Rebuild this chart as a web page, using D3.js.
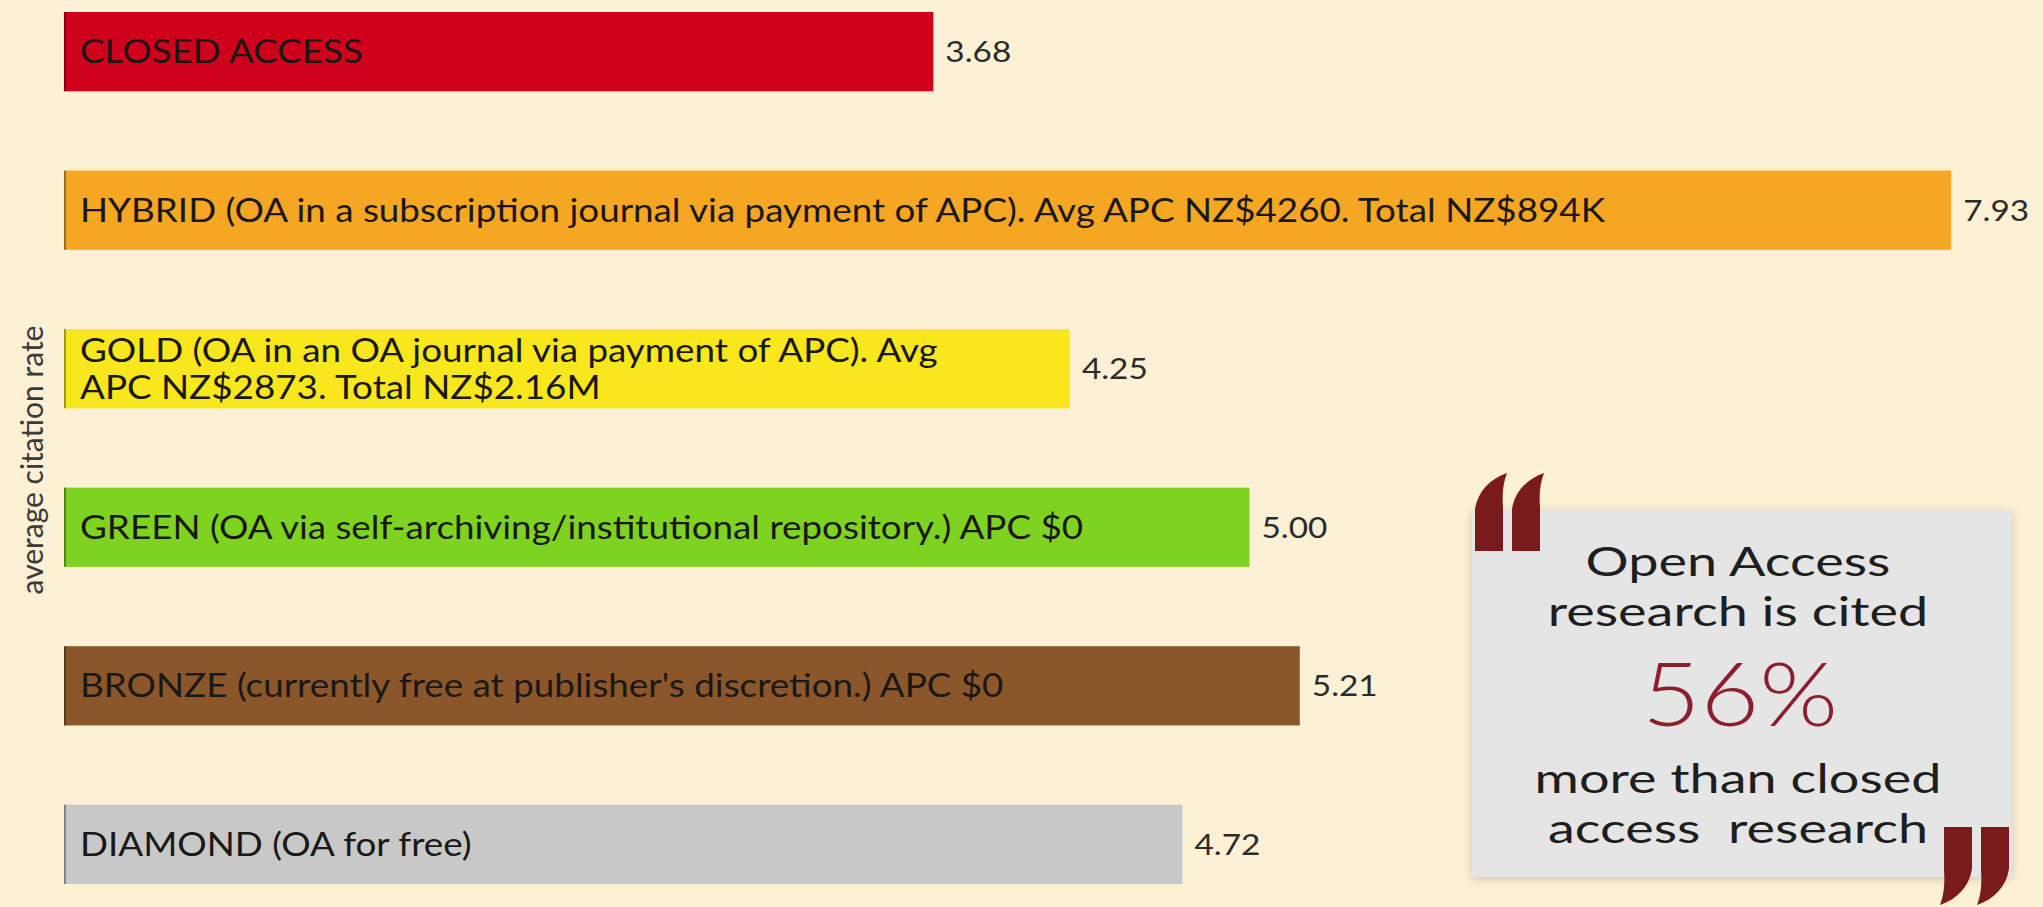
<!DOCTYPE html>
<html lang="en">
<head>
<meta charset="utf-8">
<title>Citation rate by access type</title>
<script src="https://d3js.org/d3.v7.min.js"></script>
<style>
  html, body { margin: 0; padding: 0; background: #fcf0d5; }
  svg { display: block; font-family: Lato, "Open Sans", sans-serif; }
</style>
</head>
<body>
<svg id="chart" width="2043" height="907"></svg>
<script>
// data
const categories = ["CLOSED", "HYBRID", "GOLD", "GREEN", "BRONZE", "DIAMOND"];
const values = [3.68, 7.93, 4.25, 5.00, 5.21, 4.72];
const barLabels = [
  ["CLOSED ACCESS"],
  ["HYBRID (OA in a subscription journal via payment of APC). Avg APC NZ$4260. Total NZ$894K"],
  ["GOLD (OA in an OA journal via payment of APC). Avg", "APC NZ$2873. Total NZ$2.16M"],
  ["GREEN (OA via self-archiving/institutional repository.) APC $0"],
  ["BRONZE (currently free at publisher's discretion.) APC $0"],
  ["DIAMOND (OA for free)"]
];
const barColors = ["#d0021b", "#f5a623", "#f8e71c", "#7ed321", "#8b572a", "#c8c8c9"];
const yTitle = "average citation rate";
const quoteTop = ["Open Access", "research is cited"];
const quoteStat = "56%";
const quoteBottom = ["more than closed", "access\u00a0 research"];

const svg = d3.select("#chart");
const W = 2043, H = 907;
const left = 65;
const sx = 1.15; // the original picture is stretched sideways

svg.append("rect").attr("width", W).attr("height", H).attr("fill", "#fcf0d5");

const defs = svg.append("defs");
const shadow = defs.append("filter").attr("id", "shadow")
  .attr("x", "-10%").attr("y", "-10%").attr("width", "120%").attr("height", "120%");
shadow.append("feDropShadow").attr("dx", 0).attr("dy", 2).attr("stdDeviation", 4)
  .attr("flood-color", "#000").attr("flood-opacity", 0.18);

// scales
const x = d3.scaleLinear().domain([0, 8]).range([52, 1968]);
const y = d3.scaleBand().domain(categories).range([12, 884]).paddingInner(0.5).paddingOuter(0);

const rows = categories.map((c, i) => ({cat: c, v: values[i], lines: barLabels[i], color: barColors[i]}));

// bars
const bar = svg.append("g").selectAll("g")
  .data(rows)
  .join("g")
  .attr("transform", d => `translate(0,${y(d.cat)})`);

bar.append("rect")
  .attr("x", left)
  .attr("width", d => x(d.v) - left)
  .attr("height", y.bandwidth())
  .attr("fill", d => d.color);

// thin darker left edge like the original
bar.append("rect")
  .attr("x", left - 1)
  .attr("width", 2)
  .attr("height", y.bandwidth())
  .attr("fill", d => d3.color(d.color).darker(1.2));

// labels inside bars
bar.each(function(d) {
  const g = d3.select(this);
  const n = d.lines.length;
  const lh = 37;
  d.lines.forEach((line, k) => {
    const cy = y.bandwidth() / 2 + (k - (n - 1) / 2) * lh;
    g.append("text")
      .attr("transform", `translate(80,${cy}) scale(${sx},1)`)
      .attr("dy", "0.36em")
      .attr("font-size", 32)
      .attr("fill", "#1a1816")
      .text(line);
  });
});

// value labels
bar.append("text")
  .attr("transform", d => `translate(${x(d.v) + 12},${y.bandwidth() / 2}) scale(${sx},1)`)
  .attr("dy", "0.36em")
  .attr("font-size", 29)
  .attr("fill", "#2b2b2b")
  .text(d => d.v.toFixed(2));

// y axis title
svg.append("text")
  .attr("transform", "translate(43,460) rotate(-90)")
  .attr("text-anchor", "middle")
  .attr("font-size", 30)
  .attr("fill", "#3a3a3a")
  .text(yTitle);

// quote box
const qx = 1472, qy = 510, qw = 540, qh = 367, qc = 1738;
const quote = svg.append("g");
quote.append("rect")
  .attr("x", qx).attr("y", qy).attr("width", qw).attr("height", qh)
  .attr("fill", "#e5e5e6")
  .attr("filter", "url(#shadow)");

const qsx = 1.3;
quote.selectAll("text.top")
  .data(quoteTop)
  .join("text")
  .attr("class", "top")
  .attr("transform", (d, i) => `translate(${qc},${576 + i * 50}) scale(${qsx},1)`)
  .attr("text-anchor", "middle")
  .attr("font-size", 41.5)
  .attr("fill", "#1e1e1e")
  .text(d => d);

quote.append("text")
  .attr("transform", `translate(${qc + 2},726) scale(1.15,1)`)
  .attr("text-anchor", "middle")
  .attr("font-size", 88)
  .attr("font-weight", 300)
  .attr("fill", "#8c1f2d")
  .text(quoteStat);

quote.selectAll("text.bottom")
  .data(quoteBottom)
  .join("text")
  .attr("class", "bottom")
  .attr("transform", (d, i) => `translate(${qc},${793 + i * 50}) scale(${qsx},1)`)
  .attr("text-anchor", "middle")
  .attr("font-size", 41.5)
  .attr("fill", "#1e1e1e")
  .text(d => d);

// quotation marks
const stroke = "M0,78 L28,78 L28,34 C27,22 28,10 32,0 C15,6 3,18 0,36 Z";
function quoteMark(tx, ty, rot) {
  const g = quote.append("g").attr("transform", `translate(${tx},${ty}) rotate(${rot})`);
  g.append("path").attr("d", stroke).attr("fill", "#7a1a1c");
  g.append("path").attr("d", stroke).attr("transform", "translate(37,0)").attr("fill", "#7a1a1c");
}
quoteMark(1475, 473, 0);
quoteMark(2009, 905, 180);
</script>
</body>
</html>
